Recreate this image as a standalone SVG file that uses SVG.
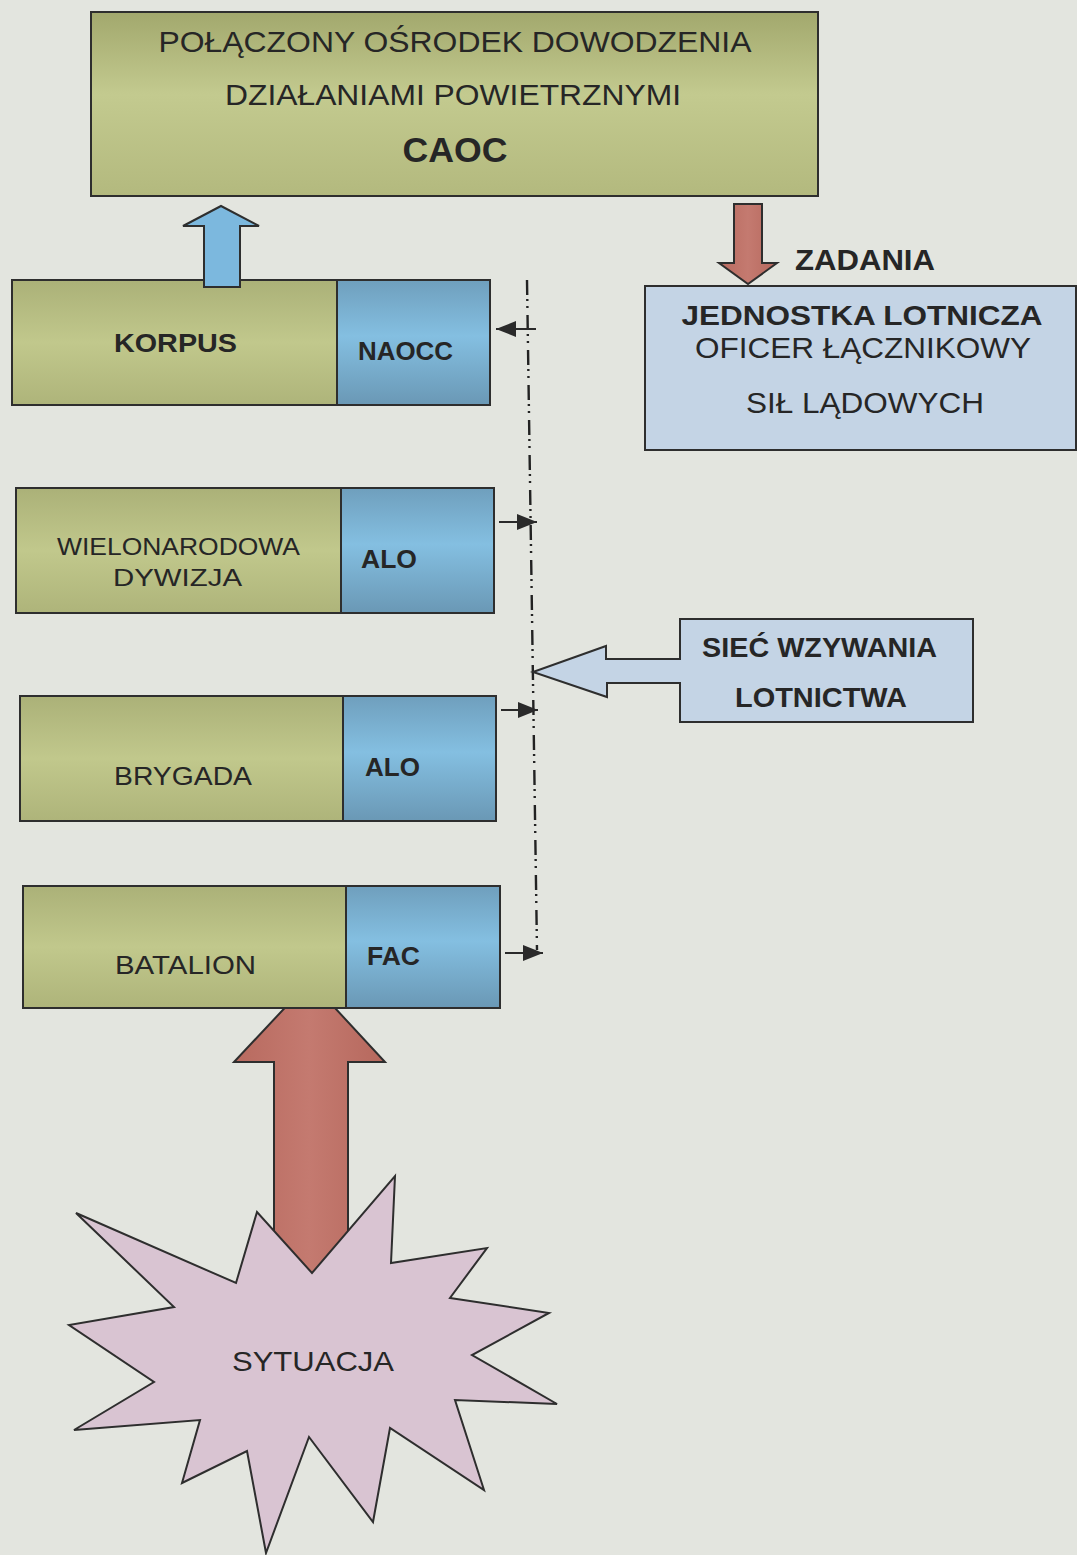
<svg xmlns="http://www.w3.org/2000/svg" width="1077" height="1555" viewBox="0 0 1077 1555">
  <style>
    text { font-family: "Liberation Sans", Arial, sans-serif; fill: #262626; text-anchor: middle; }
    .b { font-weight: bold; }
    .box { stroke: #2e2e2e; stroke-width: 2; }
    .olive { fill: url(#olive); }
    .cell { fill: url(#cell); }
    .pale { fill: #c4d4e5; }
    .link { stroke: #222; stroke-width: 2.4; fill: none; }
    .tick { stroke: #2a2a2a; stroke-width: 2; fill: none; marker-end: url(#head); }
    .fat { stroke: #2e2e2e; stroke-width: 2; }
  </style>
  <defs>
    <linearGradient id="olive" x1="0" y1="0" x2="0" y2="1">
      <stop offset="0" stop-color="#abb178"/>
      <stop offset="0.5" stop-color="#c1c88c"/>
      <stop offset="1" stop-color="#aeb47a"/>
    </linearGradient>
    <linearGradient id="oliveTop" x1="0" y1="0" x2="0" y2="1">
      <stop offset="0" stop-color="#a2a86d"/>
      <stop offset="0.45" stop-color="#c3ca8f"/>
      <stop offset="1" stop-color="#b3b97e"/>
    </linearGradient>
    <linearGradient id="cell" x1="0" y1="0" x2="0" y2="1">
      <stop offset="0" stop-color="#6f9fbd"/>
      <stop offset="0.45" stop-color="#84bfe1"/>
      <stop offset="1" stop-color="#6a98b5"/>
    </linearGradient>
    <linearGradient id="rust" x1="0" y1="0" x2="1" y2="0">
      <stop offset="0" stop-color="#b86a5f"/>
      <stop offset="0.5" stop-color="#c47a70"/>
      <stop offset="1" stop-color="#b6685d"/>
    </linearGradient>
    <marker id="head" markerUnits="userSpaceOnUse" markerWidth="22" markerHeight="18" refX="20" refY="8" orient="auto">
      <path d="M0,0 L20,8 L0,16 Z" fill="#2a2a2a"/>
    </marker>
  </defs>

  <rect x="0" y="0" width="1077" height="1555" fill="#e3e5df"/>

  <!-- connectors -->
  <g id="connectors">
    <!-- radio net line -->
    <path class="link" d="M527,280 L537,950" stroke-dasharray="15 4 2 5 2 7"/>
    <line class="tick" x1="536" y1="329" x2="496" y2="329"/>
    <line class="tick" x1="499" y1="522" x2="537" y2="522"/>
    <line class="tick" x1="501" y1="710" x2="538" y2="710"/>
    <line class="tick" x1="505" y1="953" x2="543" y2="953"/>
    <!-- ZADANIA arrow -->
    <polygon class="fat" fill="url(#rust)" points="734,204 762,204 762,263 777,263 748,284 719,263 734,263"/>
    <!-- report arrow from situation -->
    <polygon class="fat" fill="url(#rust)" points="310,981 385,1062 348,1062 348,1290 274,1290 274,1062 234,1062"/>
  </g>

  <!-- CAOC -->
  <g id="caoc">
    <rect class="box" x="91" y="12" width="727" height="184" fill="url(#oliveTop)"/>
    <text x="455" y="52" font-size="29" textLength="593" lengthAdjust="spacingAndGlyphs">POŁĄCZONY OŚRODEK DOWODZENIA</text>
    <text x="453" y="105" font-size="29" textLength="456" lengthAdjust="spacingAndGlyphs">DZIAŁANIAMI POWIETRZNYMI</text>
    <text class="b" x="455" y="162" font-size="35" textLength="105" lengthAdjust="spacingAndGlyphs">CAOC</text>
  </g>

  <g id="zadania-label">
    <text class="b" x="865" y="270" font-size="29" textLength="140" lengthAdjust="spacingAndGlyphs">ZADANIA</text>
  </g>

  <!-- air unit liaison -->
  <g id="jednostka">
    <rect class="box pale" x="645" y="286" width="431" height="164"/>
    <text class="b" x="862" y="325" font-size="28" textLength="361" lengthAdjust="spacingAndGlyphs">JEDNOSTKA LOTNICZA</text>
    <text x="863" y="358" font-size="29" textLength="336" lengthAdjust="spacingAndGlyphs">OFICER ŁĄCZNIKOWY</text>
    <text x="865" y="413" font-size="29" textLength="238" lengthAdjust="spacingAndGlyphs">SIŁ LĄDOWYCH</text>
  </g>

  <!-- corps -->
  <g id="korpus">
    <rect class="box olive" x="12" y="280" width="325" height="125"/>
    <rect class="box cell" x="337" y="280" width="153" height="125"/>
    <text class="b" x="175.5" y="352" font-size="26" textLength="123" lengthAdjust="spacingAndGlyphs">KORPUS</text>
    <text class="b" x="405.5" y="360" font-size="25" textLength="95" lengthAdjust="spacingAndGlyphs">NAOCC</text>
  </g>

  <!-- up arrow corps to CAOC -->
  <g id="korpus-up">
    <polygon class="fat" fill="#7cb8de" points="221,206 259,226 240,226 240,287 204,287 204,226 183,226"/>
  </g>

  <!-- division -->
  <g id="dywizja">
    <rect class="box olive" x="16" y="488" width="325" height="125"/>
    <rect class="box cell" x="341" y="488" width="153" height="125"/>
    <text x="178.5" y="555" font-size="24" textLength="243" lengthAdjust="spacingAndGlyphs">WIELONARODOWA</text>
    <text x="177.5" y="586" font-size="24" textLength="129" lengthAdjust="spacingAndGlyphs">DYWIZJA</text>
    <text class="b" x="389" y="568" font-size="25" textLength="56" lengthAdjust="spacingAndGlyphs">ALO</text>
  </g>

  <!-- air request net callout -->
  <g id="siec">
    <polygon class="box pale" points="680,619 973,619 973,722 680,722 680,683 607,683 607,697 533,672 606,646 606,659 680,659"/>
    <text class="b" x="819.5" y="657" font-size="27" textLength="235" lengthAdjust="spacingAndGlyphs">SIEĆ WZYWANIA</text>
    <text class="b" x="821" y="707" font-size="27" textLength="172" lengthAdjust="spacingAndGlyphs">LOTNICTWA</text>
  </g>

  <!-- brigade -->
  <g id="brygada">
    <rect class="box olive" x="20" y="696" width="323" height="125"/>
    <rect class="box cell" x="343" y="696" width="153" height="125"/>
    <text x="183" y="785" font-size="26" textLength="138" lengthAdjust="spacingAndGlyphs">BRYGADA</text>
    <text class="b" x="392.5" y="776" font-size="25" textLength="55" lengthAdjust="spacingAndGlyphs">ALO</text>
  </g>

  <!-- battalion -->
  <g id="batalion">
    <rect class="box olive" x="23" y="886" width="323" height="122"/>
    <rect class="box cell" x="346" y="886" width="154" height="122"/>
    <text x="185.5" y="974" font-size="26" textLength="141" lengthAdjust="spacingAndGlyphs">BATALION</text>
    <text class="b" x="393.5" y="965" font-size="25" textLength="53" lengthAdjust="spacingAndGlyphs">FAC</text>
  </g>

  <!-- situation burst -->
  <g id="sytuacja">
    <polygon class="box" fill="#d9c4d2" points="76,1213 236,1283 257,1212 312,1273 395,1176 391,1263 487,1248 450,1298 549,1313 472,1355 557,1404 455,1400 484,1490 390,1428 373,1522 309,1437 266,1553 247,1451 182,1483 200,1420 74,1430 154,1382 69,1325 174,1307"/>
    <text x="313" y="1371" font-size="28" textLength="162" lengthAdjust="spacingAndGlyphs">SYTUACJA</text>
  </g>
</svg>
